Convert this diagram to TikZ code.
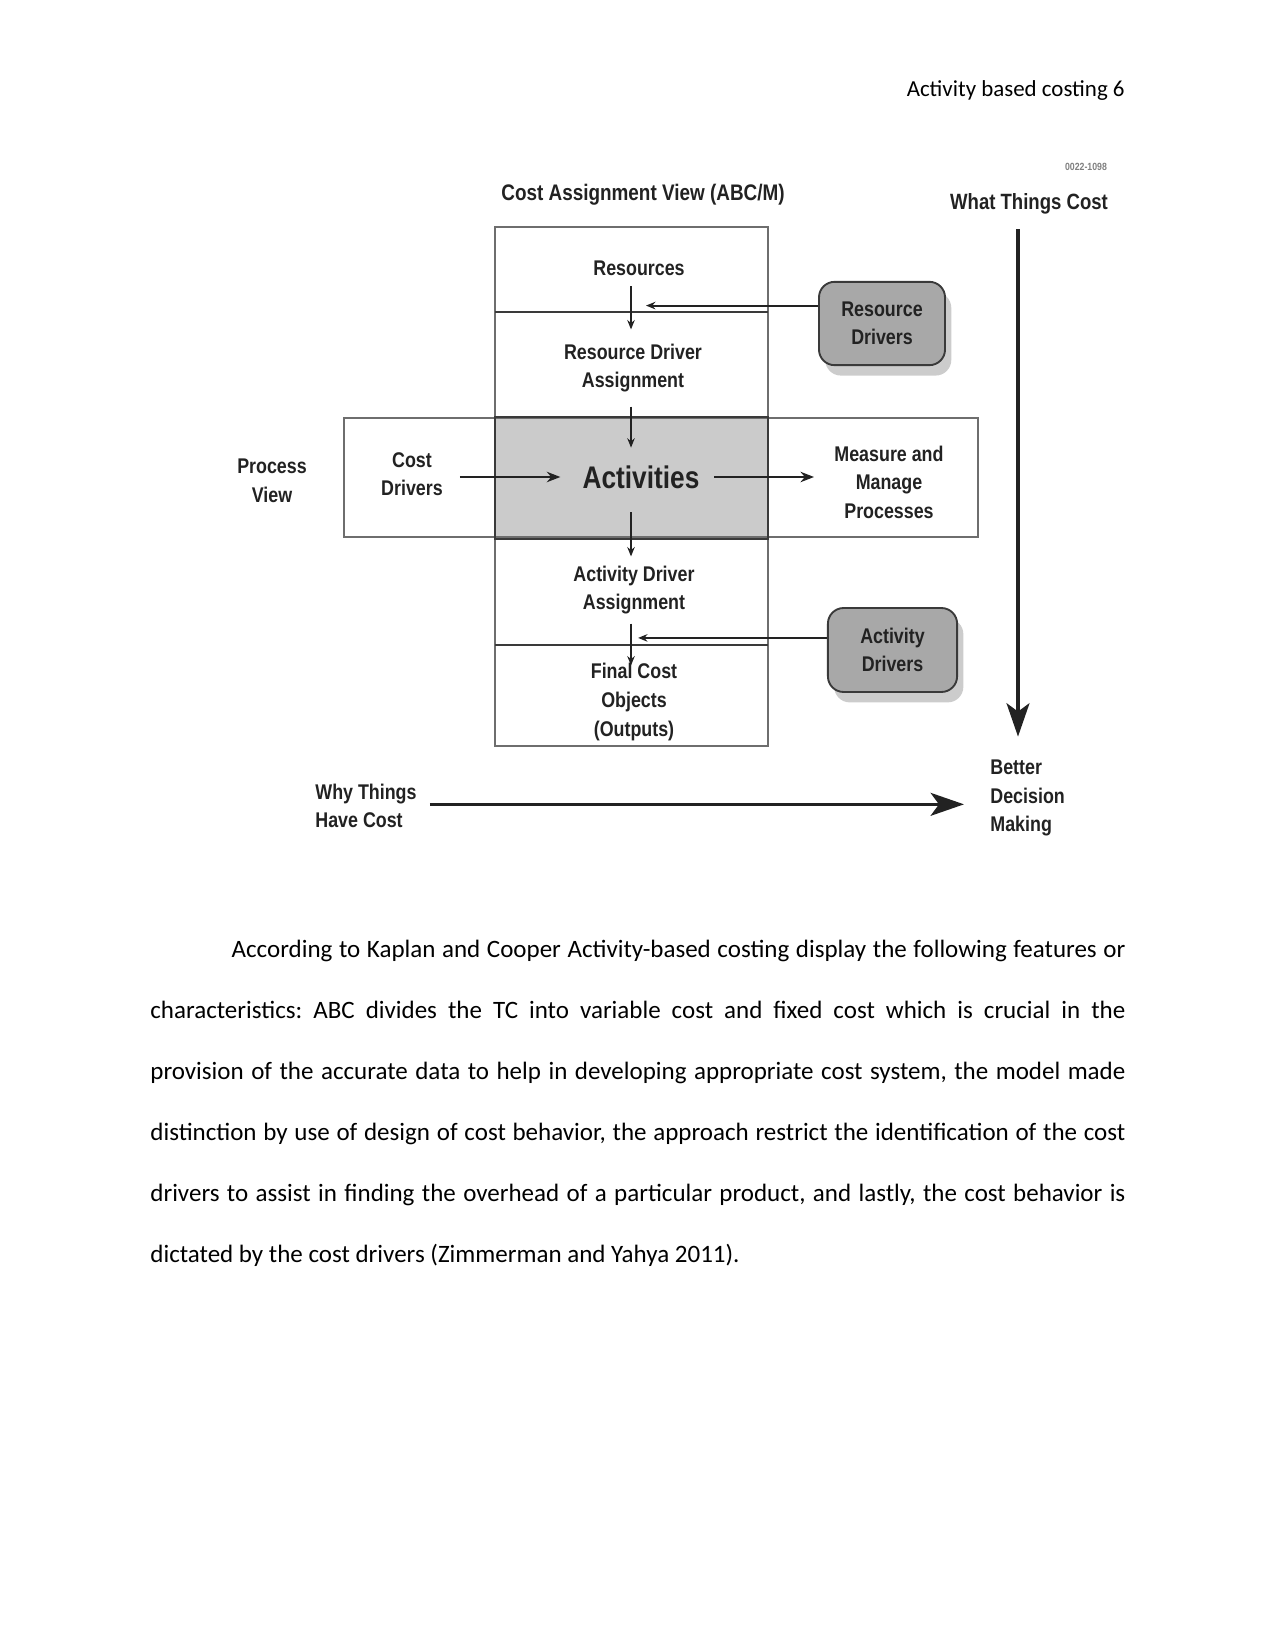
\documentclass[tikz,border=0pt]{standalone}
\usepackage{fontspec}
\setmainfont{Carlito}
\newfontfamily\dgf[FakeStretch=0.84]{Liberation Sans}
\usetikzlibrary{arrows.meta,shadows}
\definecolor{ink}{HTML}{222222}
\definecolor{framec}{HTML}{6E6E6E}
\definecolor{actfill}{HTML}{CBCBCB}
\definecolor{drvfill}{HTML}{A8A8A8}
\definecolor{drvline}{HTML}{3A3A3A}
\begin{document}
\begin{tikzpicture}[x=0.48pt,y=-0.48pt,
  lbl/.style={font=\dgf\bfseries\fontsize{10.2}{13.7}\selectfont, text=ink, align=center, inner sep=0pt},
  sarr/.style={draw=ink, line width=0.6pt, -{Stealth[length=4.5pt,width=3.6pt]}},
  marr/.style={draw=ink, line width=1.1pt, -{Stealth[length=6.5pt,width=5pt]}},
  barr/.style={draw=ink, line width=1.5pt, -{Stealth[length=16pt,width=11pt,inset=4pt]}},
  frame/.style={draw=framec, line width=0.8pt},
  sepline/.style={draw=drvline, line width=1.2pt},
  drv/.style={lbl, draw=drvline, fill=drvfill, line width=0.9pt, rounded corners=7.5pt,
    drop shadow={opacity=0.4, shadow xshift=3pt, shadow yshift=-5pt}}
]
\useasboundingbox[fill=white] (0,0) rectangle (1275,1650);

% header
\node[anchor=base east, font=\fontsize{11}{13}\selectfont, inner sep=0pt] (hdr) at (1125,97) {Activity based costing 6};

% frames
\fill[actfill] (495,417) rectangle (768,539);
\draw[frame] (344,418) rectangle (978,537);
\draw[frame] (495,227) rectangle (768,746);
\draw[frame, draw=drvline] (495,417) rectangle (768,539);
\draw[sepline] (495,312) -- (768,312);
\draw[sepline] (495,645) -- (768,645);

% labels
\node[lbl, font=\dgf\bfseries\fontsize{5}{6}\selectfont, text=gray] (code) at (1086,167) {0022-1098};
\node[lbl, font=\dgf\bfseries\fontsize{10.8}{13}\selectfont] (cav) at (643,195) {Cost Assignment View (ABC/M)};
\node[lbl, font=\dgf\bfseries\fontsize{10.6}{13}\selectfont] (wtc) at (1029,204) {What Things Cost};
\node[lbl] (res) at (639,268) {Resources};
\node[lbl] (rda) at (633,368) {Resource Driver\\Assignment};
\node[lbl] (pv) at (272,481) {Process\\View};
\node[lbl] (cd) at (412,474) {Cost\\Drivers};
\node[lbl, font=\dgf\bfseries\fontsize{15}{18}\selectfont] (act) at (641,477) {Activities};
\node[lbl] (mmp) at (889,482) {Measure and\\Manage\\Processes};
\node[lbl] (ada) at (634,590) {Activity Driver\\Assignment};
\node[lbl] (fco) at (634,702) {Final Cost\\Objects\\(Outputs)};
\node[lbl, align=left, anchor=west] (bdm) at (990,798) {Better\\Decision\\Making};
\node[lbl, align=left, anchor=west] (wthc) at (315,806) {Why Things\\Have Cost};

\node[drv, minimum width=60.5pt, minimum height=40pt] (rdrv) at (882,323.5) {Resource\\Drivers};
\node[drv, minimum width=62pt, minimum height=40.3pt] (adrv) at (892.5,650) {Activity\\Drivers};

\coordinate (axis) at (631,0);
\coordinate (vx) at (1018,0);

% column arrows
\draw[sarr, shorten <=5pt, shorten >=6.7pt] (res.south -| axis) -- (rda.north -| axis);
\draw[sarr, shorten <=6.7pt, shorten >=8.4pt] (rda.south -| axis) -- (act.north -| axis);
\draw[sarr, shorten <=11.3pt, shorten >=4.3pt] (act.south -| axis) -- (ada.north -| axis);
\draw[sarr, shorten <=4.3pt, shorten >=-1.1pt] (ada.south -| axis) -- (fco.north -| axis);

% driver arrows
\draw[sarr, line width=0.9pt, shorten >=7.2pt] ([yshift=8.6pt]rdrv.west) -- ([yshift=8.6pt]rdrv.west -| axis);
\draw[sarr, line width=0.9pt, shorten >=3.4pt] ([yshift=5.8pt]adrv.west) -- ([yshift=5.8pt]adrv.west -| axis);

% process arrows
\draw[marr, shorten <=8pt, shorten >=10.5pt] (cd.east |- act.center) -- (act.west);
\draw[marr, shorten <=7pt, shorten >=9.6pt] (act.east) -- (act.east -| mmp.west);

% big arrows
\draw[barr, shorten <=7pt, shorten >=11pt] (wtc.south -| vx) -- (bdm.north -| vx);
\draw[barr, shorten <=6.2pt, shorten >=12.5pt] ([yshift=0.8pt]wthc.east) -- ([yshift=0.8pt]wthc.east -| bdm.west);

% body text
\node[anchor=north west, text width=468pt, align=justify, inner sep=0pt,
  font=\fontsize{12}{29.3}\selectfont] (body) at (150,940)
{\frenchspacing\hspace*{39pt}According to Kaplan and Cooper Activity-based costing display the following features or\linebreak
characteristics: ABC divides the TC into variable cost and fixed cost which is crucial in the\linebreak
provision of the accurate data to help in developing appropriate cost system, the model made\linebreak
distinction by use of design of cost behavior, the approach restrict the identification of the cost\linebreak
drivers to assist in finding the overhead of a particular product, and lastly, the cost behavior is\linebreak
dictated by the cost drivers (Zimmerman and Yahya 2011).};
\end{tikzpicture}
\end{document}
